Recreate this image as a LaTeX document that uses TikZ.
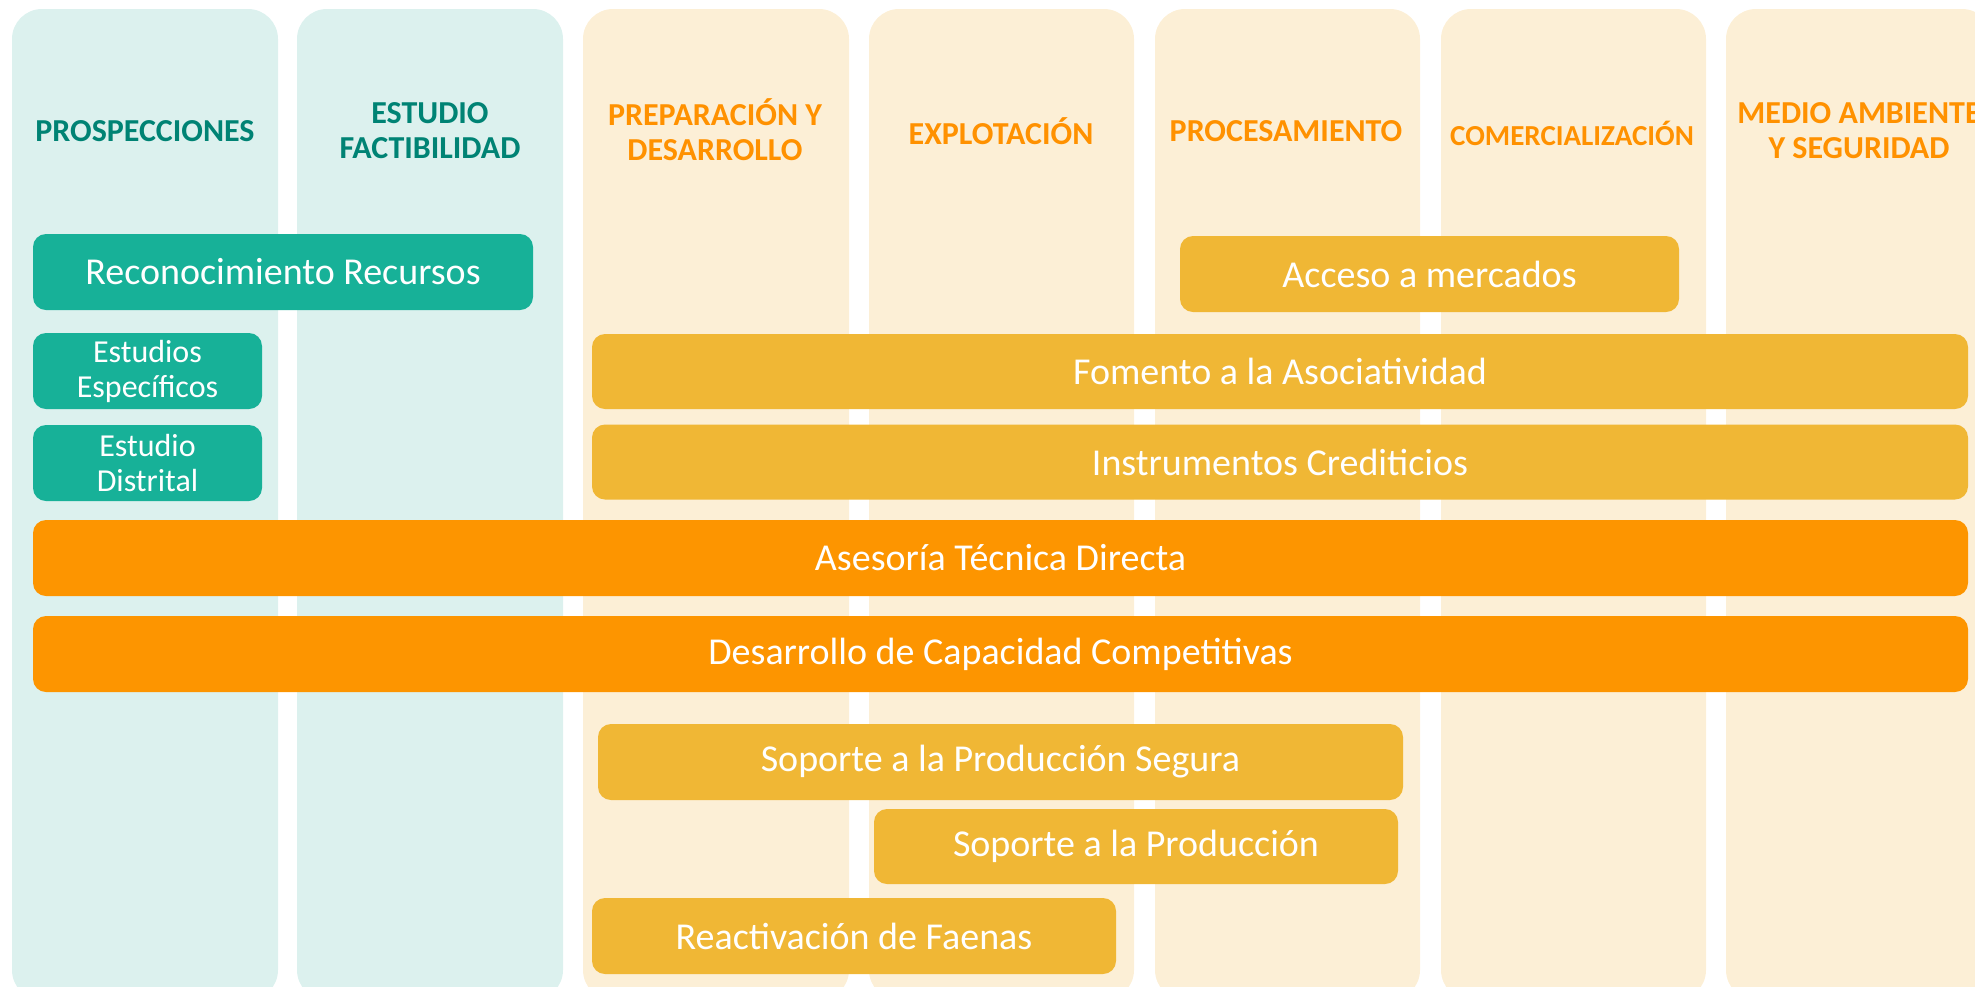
\documentclass[tikz,border=0pt]{standalone}
\usepackage{fontspec}
\setmainfont{Carlito}
\definecolor{colteal}{HTML}{DCF1EE}
\definecolor{colorg}{HTML}{FCEFD6}
\definecolor{boxteal}{HTML}{17B198}
\definecolor{boxyel}{HTML}{F0B735}
\definecolor{boxorg}{HTML}{FD9500}
\definecolor{hdteal}{HTML}{008374}
\definecolor{hdorg}{HTML}{FF9100}
\tikzset{
  colbg/.style={rounded corners=30pt},
  hd/.style={font=\fontsize{32}{35}\selectfont\bfseries, align=center, inner sep=0pt},
  hdsm/.style={font=\fontsize{29}{35}\selectfont\bfseries},
  bx/.style={rounded corners=13pt, text=white, inner sep=0pt, align=center, font=\fontsize{38}{42}\selectfont},
  tealbox/.style={bx, fill=boxteal},
  yelbox/.style={bx, fill=boxyel},
  orgbox/.style={bx, fill=boxorg},
  small/.style={font=\fontsize{32}{35}\selectfont}
}
\begin{document}
\begin{tikzpicture}[x=1pt,y=-1pt]
\useasboundingbox (0,0) rectangle (1975,986);
\clip (0,0) rectangle (1975,986);
% columns
\fill[colteal,colbg] (12,9) rectangle (278,1000);
\fill[colteal,colbg] (297,9) rectangle (563,1000);
\fill[colorg,colbg] (583,9) rectangle (849,1000);
\fill[colorg,colbg] (869,9) rectangle (1134,1000);
\fill[colorg,colbg] (1155,9) rectangle (1420,1000);
\fill[colorg,colbg] (1441,9) rectangle (1706,1000);
\fill[colorg,colbg] (1726,9) rectangle (1992,1000);
% headers
\node[hd,text=hdteal] (h1) at (145,131) {PROSPECCIONES};
\node[hd,text=hdteal] (h2) at (430,131) {ESTUDIO\\FACTIBILIDAD};
\node[hd,text=hdorg] (h3) at (715,130) {PREPARACIÓN Y\\DESARROLLO};
\node[hd,text=hdorg] (h4) at (1001,131) {EXPLOTACIÓN};
\node[hd,text=hdorg] (h5) at (1286,131) {PROCESAMIENTO};
\node[hd,hdsm,text=hdorg] (h6) at (1572,133) {COMERCIALIZACIÓN};
\node[hd,text=hdorg] (h7) at (1859,131) {MEDIO AMBIENTE\\Y SEGURIDAD};
% boxes
\node[tealbox, minimum width=500pt, minimum height=76pt] (rr) at (283,272) {Reconocimiento Recursos};
\node[tealbox, small, minimum width=229pt, minimum height=76pt] (ee) at (147.5,371) {Estudios\\Específicos};
\node[tealbox, small, minimum width=229pt, minimum height=76pt] (ed) at (147.5,463) {Estudio\\Distrital};
\node[yelbox, minimum width=499pt, minimum height=76pt] (am) at (1429.5,274) {Acceso a mercados};
\node[yelbox, minimum width=1376pt, minimum height=75pt] (fa) at (1280,371.5) {Fomento a la Asociatividad};
\node[yelbox, minimum width=1376pt, minimum height=75pt] (ic) at (1280,462) {Instrumentos Crediticios};
\node[orgbox, minimum width=1935pt, minimum height=76pt] (at) at (1000.5,558) {Asesoría Técnica Directa};
\node[orgbox, minimum width=1935pt, minimum height=76pt] (dc) at (1000.5,654) {Desarrollo de Capacidad Competitivas};
\node[yelbox, minimum width=805pt, minimum height=76pt] (sps) at (1000.5,762) {Soporte a la Producción Segura};
\node[yelbox, minimum width=524pt, minimum height=75pt] (sp) at (1136,846.5) {Soporte a la Producción};
\node[yelbox, minimum width=524pt, minimum height=76pt] (rf) at (854,936) {Reactivación de Faenas};
\end{tikzpicture}
\end{document}
